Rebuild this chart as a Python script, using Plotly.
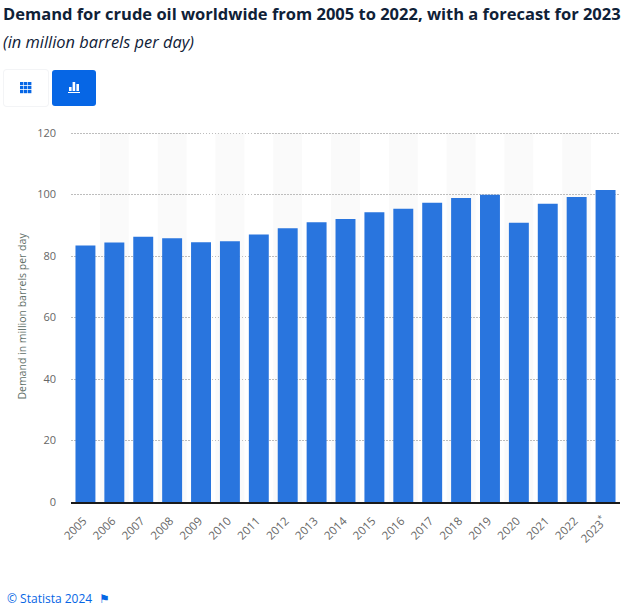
import plotly.graph_objects as go

# Werte
years = ["2005", "2006", "2007", "2008", "2009", "2010", "2011", "2012", "2013", "2014",
         "2015", "2016", "2017", "2018", "2019", "2020", "2021", "2022", "2023"]
year_labels = years[:-1] + ["2023<sup>*</sup>"]
demand = [83.4, 84.4, 86.3, 85.8, 84.5, 84.8, 87.0, 89.0, 91.0, 92.0,
          94.2, 95.4, 97.3, 98.9, 99.9, 90.8, 97.0, 99.2, 101.5]
y_ticks = [0, 20, 40, 60, 80, 100, 120]

W, H = 635, 607
L, R, T, B = 71, 620, 131, 502
FONT = "Open Sans"


def px_x(x):
    return (x - L) / (R - L)


def px_y(y):
    return (B - y) / (B - T)


def box(x0, y0, x1, y1, **kw):
    return dict(type="rect", xref="paper", yref="paper", x0=px_x(x0), x1=px_x(x1),
                y0=px_y(y1), y1=px_y(y0), line_width=0, **kw)


def round_box(x0, y0, x1, y1, r, color):
    # Button mit runden Ecken
    pts = [
        f"M{px_x(x0 + r)},{px_y(y0)}", f"L{px_x(x1 - r)},{px_y(y0)}",
        f"Q{px_x(x1)},{px_y(y0)} {px_x(x1)},{px_y(y0 + r)}", f"L{px_x(x1)},{px_y(y1 - r)}",
        f"Q{px_x(x1)},{px_y(y1)} {px_x(x1 - r)},{px_y(y1)}", f"L{px_x(x0 + r)},{px_y(y1)}",
        f"Q{px_x(x0)},{px_y(y1)} {px_x(x0)},{px_y(y1 - r)}", f"L{px_x(x0)},{px_y(y0 + r)}",
        f"Q{px_x(x0)},{px_y(y0)} {px_x(x0 + r)},{px_y(y0)}", "Z",
    ]
    return dict(type="path", xref="paper", yref="paper", path=" ".join(pts), fillcolor=color, line_width=0)


fig = go.Figure()
fig.add_bar(x=years, y=demand, marker_color="#2975de", marker_line_width=0, width=0.69,
            hovertemplate="%{x}: %{y}<extra></extra>")

shapes = []
# hellgraue Streifen hinter jedem zweiten Jahr
for i in range(1, len(years), 2):
    shapes.append(dict(type="rect", xref="x", yref="y", x0=i - 0.5, x1=i + 0.5, y0=0, y1=y_ticks[-1],
                       fillcolor="#fafafa", line_width=0, layer="below"))

# die beiden Buttons oben links
shapes.append(round_box(3, 69, 49, 107, 4, "#f3f4f6"))
shapes.append(round_box(4, 70, 48, 106, 3, "#ffffff"))
shapes.append(round_box(52, 70, 96, 106, 3, "#0666e5"))
# Tabellen-Symbol
for cx in (20, 24, 28):
    for cy in (83, 87, 91):
        shapes.append(box(cx, cy - 1, cx + 3.4, cy + 2.2, fillcolor="#0666e5"))
# Balken-Symbol
shapes.append(box(69, 87, 71.6, 91, fillcolor="#ffffff"))
shapes.append(box(72.6, 82, 75.2, 91, fillcolor="#ffffff"))
shapes.append(box(76.4, 84, 79, 91, fillcolor="#ffffff"))
shapes.append(box(68, 92, 80, 93, fillcolor="#ffffff"))

annotations = [
    dict(text="<b>Demand for crude oil worldwide from 2005 to 2022, with a forecast for 2023</b>",
         x=px_x(0.5), y=px_y(14), font=dict(size=16.5, color="#0f2137", family=FONT)),
    dict(text="<i>(in million barrels per day)</i>",
         x=px_x(1), y=px_y(42), font=dict(size=16.4, color="#0f2137", family=FONT)),
    dict(text="© Statista 2024", x=px_x(5), y=px_y(598.5),
         font=dict(size=12, color="#0666e5", family=FONT)),
    dict(text="<b>⚑</b>", x=px_x(97), y=px_y(598.5), font=dict(size=12, color="#0666e5", family="DejaVu Sans")),
]
for a in annotations:
    a.update(xref="paper", yref="paper", xanchor="left", yanchor="middle", showarrow=False)

fig.update_layout(
    width=W, height=H,
    margin=dict(l=L, r=W - R, t=T, b=H - B, pad=0),
    paper_bgcolor="#ffffff", plot_bgcolor="#ffffff",
    showlegend=False, bargap=0.31,
    shapes=shapes, annotations=annotations,
    font=dict(family=FONT, color="#666666", size=11),
)
fig.update_xaxes(
    type="category", tickmode="array", tickvals=years, ticktext=year_labels,
    tickangle=-45, ticks="", showgrid=False, showline=True, linecolor="#1a1a1a", linewidth=1.5,
    tickfont=dict(size=11.5, color="#666666"), range=[-0.5, 18.5], fixedrange=True,
    ticklabelstandoff=6, ticklabelshift=-2,
)
fig.update_yaxes(
    range=[0, 120.65], tickvals=y_ticks, showline=False, ticks="", zeroline=False,
    showgrid=True, gridcolor="#bdbdbd", griddash="1.5px,1.5px", gridwidth=1.2,
    tickfont=dict(size=11, color="#666666"), fixedrange=True, ticklabelstandoff=14,
    title=dict(text="Demand in million barrels per day", font=dict(size=10.5, color="#5f6f68"), standoff=8),
)

fig.write_html("out.html", config=dict(displayModeBar=False),
               post_script="document.body.style.margin='0';")
